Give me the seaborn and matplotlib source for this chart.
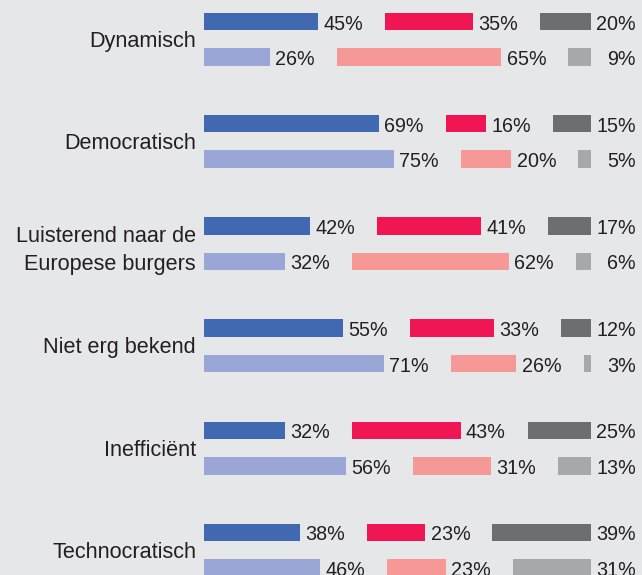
import matplotlib
matplotlib.use('Agg')
import matplotlib.pyplot as plt
import seaborn as sns

# Data
categories = ['Dynamisch', 'Democratisch', 'Luisterend naar de\nEuropese burgers',
              'Niet erg bekend', 'Inefficiënt', 'Technocratisch']
top_blue = [45, 69, 42, 55, 32, 38]
top_red = [35, 16, 41, 33, 43, 23]
top_grey = [20, 15, 17, 12, 25, 39]
bottom_blue = [26, 75, 32, 71, 56, 46]
bottom_red = [65, 20, 62, 26, 31, 23]
bottom_grey = [9, 5, 6, 3, 13, 31]

top_colors = ['#4169b2', '#f01654', '#6d6e71']
bottom_colors = ['#99a6d6', '#f69896', '#a7a8ab']
bg = '#e6e7e9'
txt = '#231f20'

sns.set_theme(style='white')
plt.rcParams['font.family'] = ['Liberation Sans', 'DejaVu Sans']

fig = plt.figure(figsize=(6.42, 5.75), dpi=100)
fig.patch.set_facecolor(bg)
ax = fig.add_axes([0, 0, 1, 1])
ax.set_facecolor(bg)
ax.axis('off')

# pixel geometry -> data units
xs = 2.53      # px per percent
ys = 102.2     # px per group
gap = 26.5     # room left for a label after each segment
row_off = 35.5 / ys
bar_h = 17.5 / ys

ax.set_xlim(-204 / xs, (642 - 204) / xs)
ax.set_ylim((575 - 21.5) / ys, -21.5 / ys)

rows = [
    (0, [top_blue, top_red, top_grey], top_colors),
    (row_off, [bottom_blue, bottom_red, bottom_grey], bottom_colors),
]

for i, cat in enumerate(categories):
    for off, series, cols in rows:
        y = i + off
        left = 0
        for s, c in zip(series, cols):
            v = s[i]
            ax.barh(y, v, left=left, height=bar_h, color=c, linewidth=0)
            ax.text(left + v + 45 / xs, y + 8 / ys, f'{v}%', ha='right', va='baseline',
                    fontsize=14.2, color=txt)
            left += v + gap
    mid = i + row_off / 2
    lines = cat.split('\n')
    if len(lines) == 1:
        ax.text(-8 / xs, mid + 7.5 / ys, cat, ha='right', va='baseline', fontsize=15.6, color=txt)
    else:
        ax.text(-8 / xs, mid - 1.6 / ys, lines[0], ha='right', va='baseline', fontsize=15.6, color=txt)
        ax.text(-8 / xs, mid + 26.4 / ys, lines[1], ha='right', va='baseline', fontsize=15.6, color=txt)

fig.savefig('out.png', dpi=100, facecolor=bg)
